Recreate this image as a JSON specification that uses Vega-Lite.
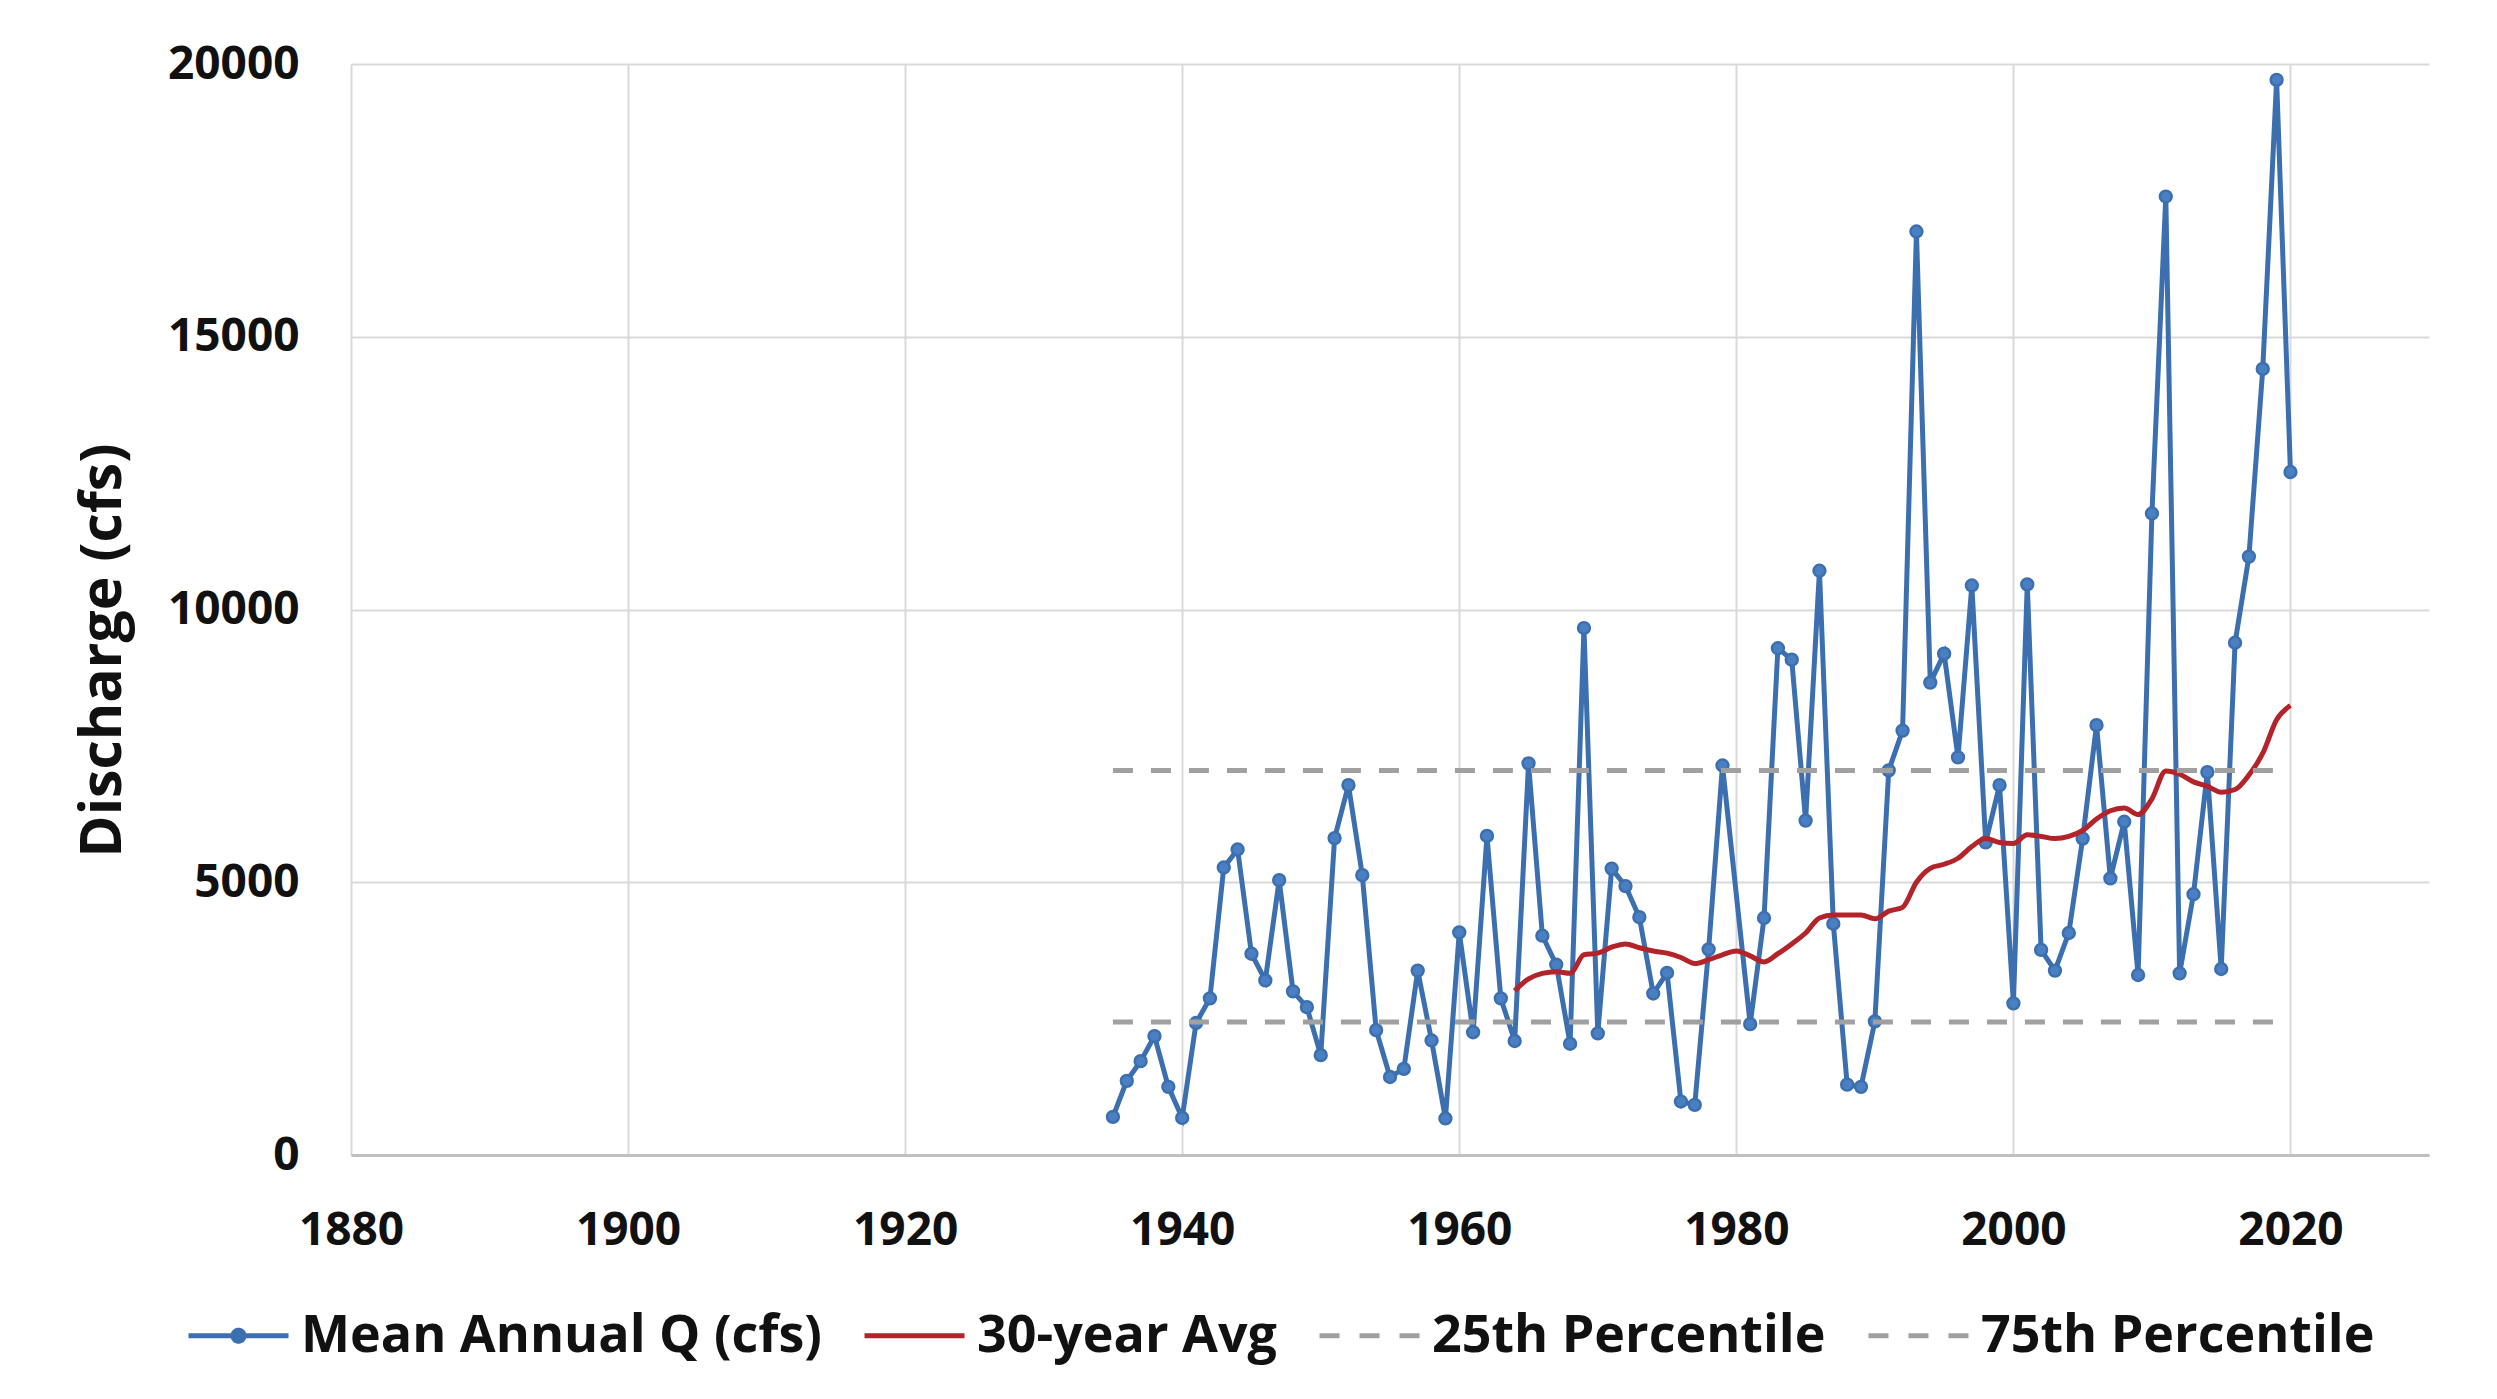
{
  "$schema": "https://vega.github.io/schema/vega-lite/v6.json",
  "width": 2078,
  "height": 1091,
  "autosize": {"type": "none"},
  "padding": {"left": 351, "top": 64, "right": 68, "bottom": 244},
  "background": "white",
  "config": {
    "view": {"stroke": null},
    "font": "Open Sans",
    "axis": {
      "labelFont": "Open Sans",
      "labelFontWeight": "bold",
      "labelFontSize": 46,
      "labelColor": "#111111",
      "gridColor": "#d9d9d9",
      "gridWidth": 2,
      "ticks": false,
      "tickSize": 0
    }
  },
  "datasets": {
    "q": [
      {"year": 1935, "value": 700, "series": "Mean Annual Q (cfs)"},
      {"year": 1936, "value": 1360, "series": "Mean Annual Q (cfs)"},
      {"year": 1937, "value": 1720, "series": "Mean Annual Q (cfs)"},
      {"year": 1938, "value": 2180, "series": "Mean Annual Q (cfs)"},
      {"year": 1939, "value": 1250, "series": "Mean Annual Q (cfs)"},
      {"year": 1940, "value": 680, "series": "Mean Annual Q (cfs)"},
      {"year": 1941, "value": 2420, "series": "Mean Annual Q (cfs)"},
      {"year": 1942, "value": 2870, "series": "Mean Annual Q (cfs)"},
      {"year": 1943, "value": 5270, "series": "Mean Annual Q (cfs)"},
      {"year": 1944, "value": 5600, "series": "Mean Annual Q (cfs)"},
      {"year": 1945, "value": 3690, "series": "Mean Annual Q (cfs)"},
      {"year": 1946, "value": 3200, "series": "Mean Annual Q (cfs)"},
      {"year": 1947, "value": 5040, "series": "Mean Annual Q (cfs)"},
      {"year": 1948, "value": 3000, "series": "Mean Annual Q (cfs)"},
      {"year": 1949, "value": 2710, "series": "Mean Annual Q (cfs)"},
      {"year": 1950, "value": 1830, "series": "Mean Annual Q (cfs)"},
      {"year": 1951, "value": 5810, "series": "Mean Annual Q (cfs)"},
      {"year": 1952, "value": 6780, "series": "Mean Annual Q (cfs)"},
      {"year": 1953, "value": 5130, "series": "Mean Annual Q (cfs)"},
      {"year": 1954, "value": 2290, "series": "Mean Annual Q (cfs)"},
      {"year": 1955, "value": 1430, "series": "Mean Annual Q (cfs)"},
      {"year": 1956, "value": 1580, "series": "Mean Annual Q (cfs)"},
      {"year": 1957, "value": 3380, "series": "Mean Annual Q (cfs)"},
      {"year": 1958, "value": 2100, "series": "Mean Annual Q (cfs)"},
      {"year": 1959, "value": 670, "series": "Mean Annual Q (cfs)"},
      {"year": 1960, "value": 4080, "series": "Mean Annual Q (cfs)"},
      {"year": 1961, "value": 2250, "series": "Mean Annual Q (cfs)"},
      {"year": 1962, "value": 5850, "series": "Mean Annual Q (cfs)"},
      {"year": 1963, "value": 2870, "series": "Mean Annual Q (cfs)"},
      {"year": 1964, "value": 2090, "series": "Mean Annual Q (cfs)"},
      {"year": 1965, "value": 7180, "series": "Mean Annual Q (cfs)"},
      {"year": 1966, "value": 4020, "series": "Mean Annual Q (cfs)"},
      {"year": 1967, "value": 3490, "series": "Mean Annual Q (cfs)"},
      {"year": 1968, "value": 2040, "series": "Mean Annual Q (cfs)"},
      {"year": 1969, "value": 9660, "series": "Mean Annual Q (cfs)"},
      {"year": 1970, "value": 2230, "series": "Mean Annual Q (cfs)"},
      {"year": 1971, "value": 5250, "series": "Mean Annual Q (cfs)"},
      {"year": 1972, "value": 4930, "series": "Mean Annual Q (cfs)"},
      {"year": 1973, "value": 4360, "series": "Mean Annual Q (cfs)"},
      {"year": 1974, "value": 2960, "series": "Mean Annual Q (cfs)"},
      {"year": 1975, "value": 3340, "series": "Mean Annual Q (cfs)"},
      {"year": 1976, "value": 980, "series": "Mean Annual Q (cfs)"},
      {"year": 1977, "value": 920, "series": "Mean Annual Q (cfs)"},
      {"year": 1978, "value": 3770, "series": "Mean Annual Q (cfs)"},
      {"year": 1979, "value": 7140, "series": "Mean Annual Q (cfs)"},
      {"year": 1981, "value": 2400, "series": "Mean Annual Q (cfs)"},
      {"year": 1982, "value": 4345, "series": "Mean Annual Q (cfs)"},
      {"year": 1983, "value": 9290, "series": "Mean Annual Q (cfs)"},
      {"year": 1984, "value": 9080, "series": "Mean Annual Q (cfs)"},
      {"year": 1985, "value": 6130, "series": "Mean Annual Q (cfs)"},
      {"year": 1986, "value": 10710, "series": "Mean Annual Q (cfs)"},
      {"year": 1987, "value": 4240, "series": "Mean Annual Q (cfs)"},
      {"year": 1988, "value": 1290, "series": "Mean Annual Q (cfs)"},
      {"year": 1989, "value": 1250, "series": "Mean Annual Q (cfs)"},
      {"year": 1990, "value": 2450, "series": "Mean Annual Q (cfs)"},
      {"year": 1991, "value": 7050, "series": "Mean Annual Q (cfs)"},
      {"year": 1992, "value": 7780, "series": "Mean Annual Q (cfs)"},
      {"year": 1993, "value": 16930, "series": "Mean Annual Q (cfs)"},
      {"year": 1994, "value": 8660, "series": "Mean Annual Q (cfs)"},
      {"year": 1995, "value": 9190, "series": "Mean Annual Q (cfs)"},
      {"year": 1996, "value": 7290, "series": "Mean Annual Q (cfs)"},
      {"year": 1997, "value": 10440, "series": "Mean Annual Q (cfs)"},
      {"year": 1998, "value": 5730, "series": "Mean Annual Q (cfs)"},
      {"year": 1999, "value": 6780, "series": "Mean Annual Q (cfs)"},
      {"year": 2000, "value": 2780, "series": "Mean Annual Q (cfs)"},
      {"year": 2001, "value": 10460, "series": "Mean Annual Q (cfs)"},
      {"year": 2002, "value": 3760, "series": "Mean Annual Q (cfs)"},
      {"year": 2003, "value": 3380, "series": "Mean Annual Q (cfs)"},
      {"year": 2004, "value": 4070, "series": "Mean Annual Q (cfs)"},
      {"year": 2005, "value": 5800, "series": "Mean Annual Q (cfs)"},
      {"year": 2006, "value": 7880, "series": "Mean Annual Q (cfs)"},
      {"year": 2007, "value": 5070, "series": "Mean Annual Q (cfs)"},
      {"year": 2008, "value": 6110, "series": "Mean Annual Q (cfs)"},
      {"year": 2009, "value": 3300, "series": "Mean Annual Q (cfs)"},
      {"year": 2010, "value": 11760, "series": "Mean Annual Q (cfs)"},
      {"year": 2011, "value": 17570, "series": "Mean Annual Q (cfs)"},
      {"year": 2012, "value": 3330, "series": "Mean Annual Q (cfs)"},
      {"year": 2013, "value": 4780, "series": "Mean Annual Q (cfs)"},
      {"year": 2014, "value": 7020, "series": "Mean Annual Q (cfs)"},
      {"year": 2015, "value": 3410, "series": "Mean Annual Q (cfs)"},
      {"year": 2016, "value": 9390, "series": "Mean Annual Q (cfs)"},
      {"year": 2017, "value": 10970, "series": "Mean Annual Q (cfs)"},
      {"year": 2018, "value": 14410, "series": "Mean Annual Q (cfs)"},
      {"year": 2019, "value": 19710, "series": "Mean Annual Q (cfs)"},
      {"year": 2020, "value": 12520, "series": "Mean Annual Q (cfs)"}
    ],
    "avg": [
      {"year": 1964, "value": 3010, "series": "30-year Avg"},
      {"year": 1965, "value": 3230, "series": "30-year Avg"},
      {"year": 1966, "value": 3330, "series": "30-year Avg"},
      {"year": 1967, "value": 3360, "series": "30-year Avg"},
      {"year": 1968, "value": 3330, "series": "30-year Avg"},
      {"year": 1969, "value": 3670, "series": "30-year Avg"},
      {"year": 1970, "value": 3700, "series": "30-year Avg"},
      {"year": 1971, "value": 3810, "series": "30-year Avg"},
      {"year": 1972, "value": 3870, "series": "30-year Avg"},
      {"year": 1973, "value": 3800, "series": "30-year Avg"},
      {"year": 1974, "value": 3740, "series": "30-year Avg"},
      {"year": 1975, "value": 3700, "series": "30-year Avg"},
      {"year": 1976, "value": 3620, "series": "30-year Avg"},
      {"year": 1977, "value": 3510, "series": "30-year Avg"},
      {"year": 1978, "value": 3580, "series": "30-year Avg"},
      {"year": 1979, "value": 3670, "series": "30-year Avg"},
      {"year": 1980, "value": 3740, "series": "30-year Avg"},
      {"year": 1981, "value": 3650, "series": "30-year Avg"},
      {"year": 1982, "value": 3540, "series": "30-year Avg"},
      {"year": 1983, "value": 3690, "series": "30-year Avg"},
      {"year": 1984, "value": 3870, "series": "30-year Avg"},
      {"year": 1985, "value": 4070, "series": "30-year Avg"},
      {"year": 1986, "value": 4345, "series": "30-year Avg"},
      {"year": 1987, "value": 4400, "series": "30-year Avg"},
      {"year": 1988, "value": 4400, "series": "30-year Avg"},
      {"year": 1989, "value": 4400, "series": "30-year Avg"},
      {"year": 1990, "value": 4330, "series": "30-year Avg"},
      {"year": 1991, "value": 4470, "series": "30-year Avg"},
      {"year": 1992, "value": 4540, "series": "30-year Avg"},
      {"year": 1993, "value": 5000, "series": "30-year Avg"},
      {"year": 1994, "value": 5255, "series": "30-year Avg"},
      {"year": 1995, "value": 5330, "series": "30-year Avg"},
      {"year": 1996, "value": 5440, "series": "30-year Avg"},
      {"year": 1997, "value": 5655, "series": "30-year Avg"},
      {"year": 1998, "value": 5800, "series": "30-year Avg"},
      {"year": 1999, "value": 5730, "series": "30-year Avg"},
      {"year": 2000, "value": 5710, "series": "30-year Avg"},
      {"year": 2001, "value": 5870, "series": "30-year Avg"},
      {"year": 2002, "value": 5840, "series": "30-year Avg"},
      {"year": 2003, "value": 5800, "series": "30-year Avg"},
      {"year": 2004, "value": 5840, "series": "30-year Avg"},
      {"year": 2005, "value": 5950, "series": "30-year Avg"},
      {"year": 2006, "value": 6160, "series": "30-year Avg"},
      {"year": 2007, "value": 6310, "series": "30-year Avg"},
      {"year": 2008, "value": 6360, "series": "30-year Avg"},
      {"year": 2009, "value": 6240, "series": "30-year Avg"},
      {"year": 2010, "value": 6530, "series": "30-year Avg"},
      {"year": 2011, "value": 7040, "series": "30-year Avg"},
      {"year": 2012, "value": 6980, "series": "30-year Avg"},
      {"year": 2013, "value": 6840, "series": "30-year Avg"},
      {"year": 2014, "value": 6760, "series": "30-year Avg"},
      {"year": 2015, "value": 6650, "series": "30-year Avg"},
      {"year": 2016, "value": 6700, "series": "30-year Avg"},
      {"year": 2017, "value": 6965, "series": "30-year Avg"},
      {"year": 2018, "value": 7365, "series": "30-year Avg"},
      {"year": 2019, "value": 7980, "series": "30-year Avg"},
      {"year": 2020, "value": 8240, "series": "30-year Avg"}
    ],
    "pct": [
      {"year": 1935, "value": 2440, "series": "25th Percentile"},
      {"year": 2020, "value": 2440, "series": "25th Percentile"},
      {"year": 1935, "value": 7050, "series": "75th Percentile"},
      {"year": 2020, "value": 7050, "series": "75th Percentile"}
    ]
  },
  "encoding": {
    "x": {
      "field": "year",
      "type": "quantitative",
      "scale": {"domain": [1880, 2030], "nice": false, "zero": false},
      "axis": {
        "title": null,
        "values": [1880, 1900, 1920, 1940, 1960, 1980, 2000, 2020],
        "format": "d",
        "labelFlush": false,
        "labelPadding": 53,
        "domain": true,
        "domainColor": "#bfbfbf",
        "domainWidth": 3
      }
    },
    "y": {
      "field": "value",
      "type": "quantitative",
      "scale": {"domain": [0, 20000], "nice": false},
      "axis": {
        "title": "Discharge (cfs)",
        "titleFont": "Open Sans",
        "titleFontWeight": "bold",
        "titleFontSize": 57,
        "titleColor": "#111111",
        "titleAngle": -90,
        "titleAlign": "center",
        "titleBaseline": "middle",
        "titleX": -248,
        "titleY": 586,
        "values": [0, 5000, 10000, 15000, 20000],
        "format": "d",
        "labelFlush": false,
        "labelPadding": 52,
        "domain": false
      }
    }
  },
  "layer": [
    {
      "data": {"name": "q"},
      "mark": {"type": "line", "strokeWidth": 5},
      "encoding": {
        "color": {
          "field": "series",
          "type": "nominal",
          "scale": {
            "domain": ["Mean Annual Q (cfs)", "30-year Avg", "25th Percentile", "75th Percentile"],
            "range": ["#3b6fb0", "#b3242a", "#a0a0a0", "#a0a0a0"]
          },
          "legend": {
            "title": null,
            "orient": "none",
            "direction": "horizontal",
            "legendX": -165,
            "legendY": 1219,
            "padding": 0,
            "columnPadding": 32,
            "labelFont": "Open Sans",
            "labelFontWeight": "bold",
            "labelFontSize": 52,
            "labelColor": "#111111",
            "labelOffset": 10,
            "labelLimit": 1000,
            "symbolType": "M-1,0H1",
            "symbolSize": 10000,
            "symbolStrokeWidth": 5,
            "encode": {
              "symbols": {
                "update": {
                  "shape": {"signal": "datum.value === 'Mean Annual Q (cfs)' ? 'M-1,0H1M-0.11,0A0.11,0.11 0 1,1 0.11,0A0.11,0.11 0 1,1 -0.11,0' : 'M-1,0H1'"},
                  "strokeDash": {"signal": "indexof(datum.value, 'Percentile') >= 0 ? [20, 20] : [1, 0]"},
                  "fill": {"signal": "datum.value === 'Mean Annual Q (cfs)' ? '#4a80c2' : 'transparent'"}
                }
              }
            }
          }
        }
      }
    },
    {
      "data": {"name": "q"},
      "mark": {"type": "point", "filled": true, "size": 140, "fill": "#4a80c2", "stroke": "#3b6fb0", "strokeWidth": 2.5, "opacity": 1},
      "encoding": {}
    },
    {
      "data": {"name": "avg"},
      "mark": {"type": "line", "strokeWidth": 5, "interpolate": "monotone"},
      "encoding": {
        "color": {"field": "series", "type": "nominal"}
      }
    },
    {
      "data": {"name": "pct"},
      "mark": {"type": "line", "strokeWidth": 5, "strokeDash": [20, 18]},
      "encoding": {
        "color": {"field": "series", "type": "nominal"},
        "detail": {"field": "series"}
      }
    }
  ]
}
